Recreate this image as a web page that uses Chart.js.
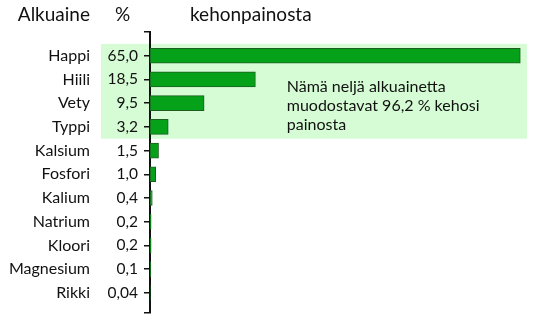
<!DOCTYPE html>
<html>
<head>
<meta charset="utf-8">
<script src="https://cdn.jsdelivr.net/npm/chart.js@4/dist/chart.umd.min.js"></script>
<style>
  html, body { margin: 0; padding: 0; background: #ffffff; }
  #wrap { width: 540px; height: 320px; position: relative; }
</style>
</head>
<body>
<div id="wrap"><canvas id="c" width="540" height="320"></canvas></div>
<script>
const elements = ['Happi', 'Hiili', 'Vety', 'Typpi', 'Kalsium', 'Fosfori', 'Kalium', 'Natrium', 'Kloori', 'Magnesium', 'Rikki'];
const percents = [65.0, 18.5, 9.5, 3.2, 1.5, 1.0, 0.4, 0.2, 0.2, 0.1, 0.04];
const percentLabels = ['65,0', '18,5', '9,5', '3,2', '1,5', '1,0', '0,4', '0,2', '0,2', '0,1', '0,04'];
const headers = ['Alkuaine', '%', 'kehonpainosta'];
const noteLines = ['Nämä neljä alkuainetta', 'muodostavat 96,2 % kehosi', 'painosta'];
const highlightRange = [0, 3];

const FONT = 'Lato';
const TEXT = '#111111';
const Y_MIN = -1, Y_MAX = 10.85;

const rowTicks = elements.map((_, i) => i);

const overlay = {
  id: 'overlay',
  beforeDraw(chart) {
    const ctx = chart.ctx;
    const y = chart.scales.y, yn = chart.scales.yn, ca = chart.chartArea;
    const top = y.getPixelForValue(highlightRange[0] - 0.5);
    const bot = y.getPixelForValue(highlightRange[1] + 0.5);
    ctx.save();
    ctx.fillStyle = '#d6fcd6';
    ctx.fillRect(yn.right + 1, top, ca.right + 1 - (yn.right + 1), bot - top);
    ctx.restore();
  },
  afterDraw(chart) {
    const ctx = chart.ctx;
    const x = chart.scales.x, y = chart.scales.y, yn = chart.scales.yn, ca = chart.chartArea;
    ctx.save();
    ctx.fillStyle = TEXT;
    ctx.textBaseline = 'middle';
    ctx.font = '19px ' + FONT;
    const hy = 15;
    ctx.textAlign = 'right';
    ctx.fillText(headers[0], yn.right - 10, hy);
    ctx.textAlign = 'left';
    ctx.fillText(headers[1], y.left + 15, hy);
    ctx.fillText(headers[2], ca.left + 40, hy);

    ctx.font = '16px ' + FONT;
    const nx = x.getPixelForValue(24);
    const ny = y.getPixelForValue(1.3);
    noteLines.forEach((t, i) => ctx.fillText(t, nx, ny + i * 19));
    ctx.restore();
  }
};

function fixWidth(w) {
  return (s) => { s.width = w; s.paddingTop = 0; s.paddingBottom = 0; };
}

new Chart(document.getElementById('c'), {
  type: 'bar',
  data: {
    datasets: [{
      data: percents.map((v, i) => ({ x: v, y: i })),
      backgroundColor: '#05a118',
      borderColor: '#1e5e20',
      borderWidth: 1,
      borderSkipped: false,
      barThickness: 15,
      yAxisID: 'y',
      xAxisID: 'x'
    }]
  },
  options: {
    indexAxis: 'y',
    responsive: false,
    maintainAspectRatio: false,
    animation: false,
    devicePixelRatio: 1,
    layout: { padding: { left: 0, right: 14, top: 32, bottom: 7 } },
    plugins: { legend: { display: false }, tooltip: { enabled: false } },
    scales: {
      x: { type: 'linear', display: false, min: 0, max: 66, offset: false },
      y: {
        type: 'linear', position: 'left', reverse: true, min: Y_MIN, max: Y_MAX, weight: 0, offset: false,
        afterBuildTicks: (s) => { s.ticks = [Y_MIN, ...rowTicks, Y_MAX].map(v => ({ value: v })); },
        afterFit: fixWidth(50),
        ticks: {
          autoSkip: false, padding: 6, color: TEXT, font: { family: FONT, size: 15.5 },
          callback: (v) => (percentLabels[v] !== undefined ? percentLabels[v] : '')
        },
        grid: { display: true, offset: false, drawOnChartArea: false, drawTicks: true, tickLength: 6, color: '#111', lineWidth: 1.5 },
        border: { display: true, color: '#111', width: 2 }
      },
      yn: {
        type: 'linear', position: 'left', reverse: true, min: Y_MIN, max: Y_MAX, weight: 1, offset: false,
        afterBuildTicks: (s) => { s.ticks = rowTicks.map(v => ({ value: v })); },
        afterFit: fixWidth(100),
        ticks: {
          autoSkip: false, padding: 10, color: TEXT, font: { family: FONT, size: 16 },
          callback: (v) => (elements[v] !== undefined ? elements[v] : '')
        },
        grid: { display: false, offset: false, drawTicks: false },
        border: { display: false }
      }
    }
  },
  plugins: [overlay]
});
</script>
</body>
</html>
